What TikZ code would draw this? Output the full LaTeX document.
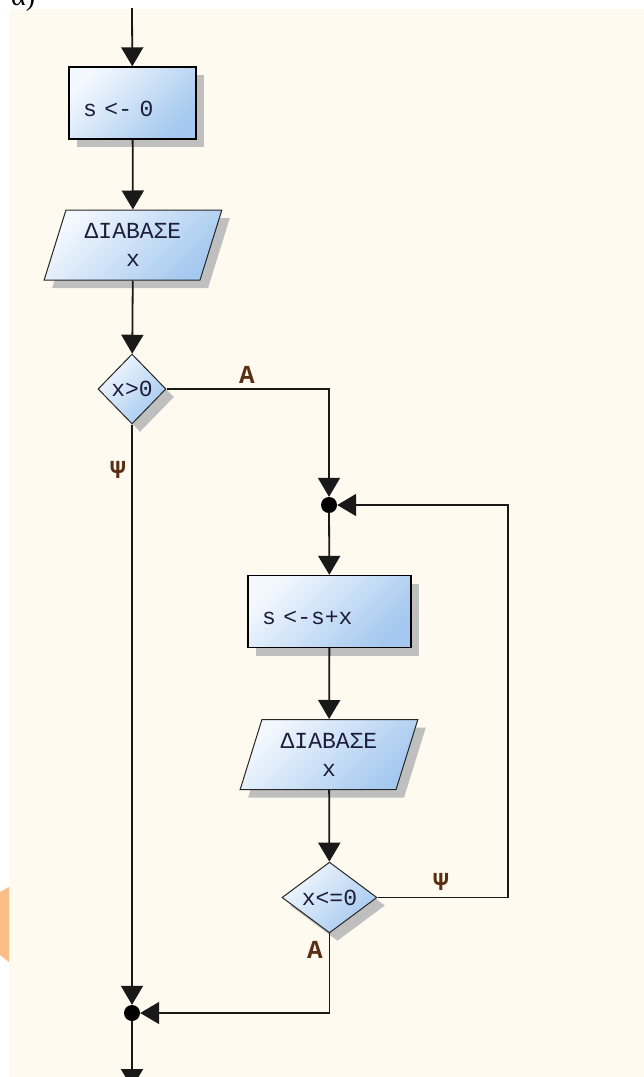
\documentclass[tikz,border=0pt]{standalone}
\usepackage{fontspec}
\setmonofont{Liberation Mono}
\newfontfamily\captionfont{Liberation Serif}
\usetikzlibrary{arrows.meta,shapes.geometric,shadows}
\definecolor{paper}{HTML}{FFFAEF}
\definecolor{boxlight}{HTML}{F3F8FE}
\definecolor{boxblue}{HTML}{A4C8EF}
\definecolor{shadowgray}{HTML}{BFBFBF}
\definecolor{textnavy}{HTML}{1E1E3A}
\definecolor{labelbrown}{HTML}{5A2E12}
\definecolor{taborange}{HTML}{FBBD86}
\begin{document}
\begin{tikzpicture}[x=1pt,y=-1pt,
  flow/.style={draw=black!90, line width=1.8pt, -{Triangle[length=19pt,width=22pt]}},
  blockfill/.style={top color=boxlight, bottom color=boxblue, shading angle=45,
    drop shadow={shadow xshift=8pt, shadow yshift=-8pt, fill=shadowgray, opacity=1}},
  codefont/.style={font=\ttfamily\fontsize{23}{28}\selectfont, text=textnavy},
  procbox/.style={rectangle, draw=black, line width=1.4pt, blockfill, codefont,
    minimum height=72pt, inner xsep=14pt, align=left, text height=26pt, text depth=0pt},
  readbox/.style={trapezium, trapezium left angle=70, trapezium right angle=110,
    trapezium stretches=true, draw=black!85, line width=1pt, blockfill, codefont,
    inner sep=0pt, minimum width=178pt, minimum height=70pt, align=center},
  decision/.style={diamond, draw=black!85, line width=1pt, blockfill, codefont, inner sep=0pt},
  joint/.style={circle, fill=black, minimum size=16pt, inner sep=0pt},
  branch/.style={font=\ttfamily\bfseries\fontsize{26}{26}\selectfont, text=labelbrown}]
\useasboundingbox (0,0) rectangle (644,1077);
\clip (0,0) rectangle (644,1077);
% page background
\fill[white] (0,0) rectangle (644,1077);
\fill[paper] (9,9) rectangle (644,1077);
\fill[taborange] (0,892) -- (9,887) -- (9,962) -- (0,955) -- cycle;
\node[anchor=base west, inner sep=0pt, font=\captionfont\fontsize{28}{28}\selectfont] (caption) at (11,5) {α)};
% main column
\coordinate (start) at (132,8);
\node[procbox, text width=99pt] (init) at (132.5,103) {s <- 0};
\node[readbox] (read1) at (133,245) {ΔΙΑΒΑΣΕ\\x};
\node[decision, minimum width=68pt, minimum height=70pt] (test1) at (132,389) {x>0};
% loop body
\node[joint] (join1) at (329,505) {};
\node[procbox, text width=135pt] (sum) at (329.5,611.5) {s <-s+x};
\node[readbox] (read2) at (329,754.5) {ΔΙΑΒΑΣΕ\\x};
\node[decision, minimum width=95pt, minimum height=69pt] (test2) at (329.5,897.5) {x<=0};
\coordinate (loopcorner) at (508,505);
% exit
\node[joint] (join2) at (132,1013) {};
\coordinate (finish) at (132,1088);
% connectors
\draw[flow] (start) -- (init);
\draw[flow] (init) -- (read1);
\draw[flow] (read1) -- (test1);
\draw[flow] (test1.east) -| (join1);
\draw[flow] (test1.south) -- (join2);
\draw[flow] (join1) -- (sum);
\draw[flow] (sum) -- (read2);
\draw[flow] (read2) -- (test2);
\draw[flow] (test2.east) -| (loopcorner) -- (join1);
\draw[flow] (test2.south) |- (join2);
\draw[flow] (join2) -- (finish);
% branch labels
\node[branch] (yes1) at (247,375) {Α};
\node[branch] (no1) at (118,470) {Ψ};
\node[branch] (no2) at (441,882) {Ψ};
\node[branch] (yes2) at (315,950) {Α};
\end{tikzpicture}
\end{document}
